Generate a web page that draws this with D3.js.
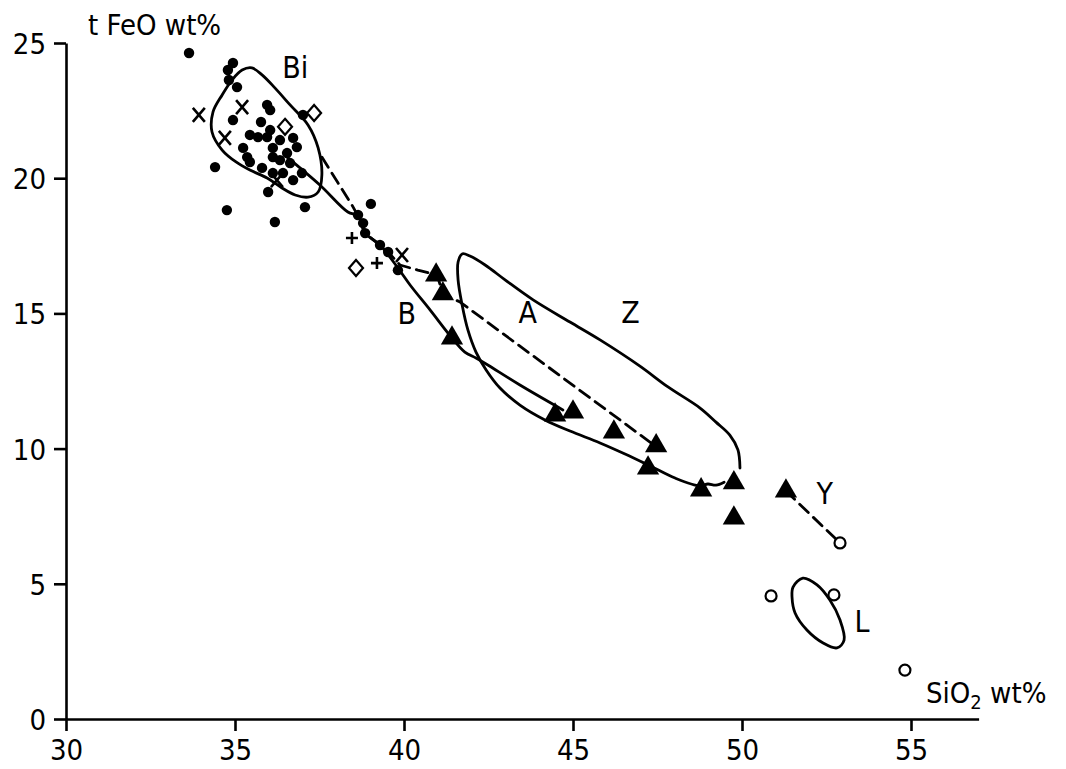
<!DOCTYPE html>
<html>
<head>
<meta charset="utf-8">
<script src="https://cdnjs.cloudflare.com/ajax/libs/d3/7.8.5/d3.min.js"></script>
<style>
  body { margin: 0; background: #fff; }
  svg { display: block; }
  .lbl { font-family: "DejaVu Sans Condensed", "DejaVu Sans", sans-serif; fill: #000; }
  .tick text { font-family: "DejaVu Sans Condensed", "DejaVu Sans", sans-serif; font-size: 29px; fill: #000; }
</style>
</head>
<body>
<svg id="chart" width="1066" height="769"></svg>
<script>
/************************************ Data *******************************/
var xTicks = [30, 35, 40, 45, 50, 55];
var yTicks = [0, 5, 10, 15, 20, 25];

// filled circles [SiO2, tFeO]
var dots = [
  [33.64, 24.63], [34.94, 24.26], [34.79, 24.0], [34.82, 23.63], [35.06, 23.37],
  [34.94, 22.15], [35.95, 22.71], [36.04, 22.52], [35.77, 22.08], [35.44, 21.6],
  [35.68, 21.52], [35.95, 21.52], [36.04, 21.78], [35.24, 21.12], [35.36, 20.78],
  [35.44, 20.6], [34.41, 20.41], [35.8, 20.38], [36.12, 21.12], [36.33, 21.41],
  [36.72, 21.49], [36.83, 21.15], [36.54, 20.93], [36.33, 20.67], [36.12, 20.78],
  [36.63, 20.56], [36.98, 20.19], [36.72, 19.93], [36.42, 20.19], [36.12, 20.19],
  [35.98, 19.49], [37.01, 22.34], [34.76, 18.82], [36.18, 18.38], [37.07, 18.93],
  [38.64, 18.64], [39.02, 19.05], [38.79, 18.34], [38.85, 17.97], [39.29, 17.53],
  [39.53, 17.27], [39.82, 16.6]
];
var triangles = [
  [40.95, 16.42], [41.15, 15.72], [41.42, 14.09], [44.47, 11.24], [45.0, 11.35],
  [46.21, 10.61], [47.46, 10.1], [47.22, 9.28], [48.79, 8.47], [49.76, 8.73],
  [49.76, 7.43], [51.3, 8.43]
];
var openCircles = [[52.9, 6.51], [50.86, 4.55], [52.72, 4.59], [54.82, 1.81]];
var diamonds = [[36.48, 21.9], [37.34, 22.41], [38.58, 16.68]];
var crosses = [[33.93, 22.34], [35.21, 22.63], [34.7, 21.49], [36.24, 19.93], [39.94, 17.16]];
var plusses = [[38.46, 17.79], [39.2, 16.86]];

// fields
var fieldBi = [
  [35.21, 24.0], [35.5, 24.08], [35.8, 23.82], [36.18, 23.34], [36.63, 22.71],
  [37.16, 21.97], [37.46, 21.12], [37.57, 20.12], [37.46, 19.49], [37.16, 19.3],
  [36.78, 19.38], [36.39, 19.64], [35.95, 20.01], [35.44, 20.3], [35.03, 20.6],
  [34.62, 21.04], [34.32, 21.71], [34.35, 22.45], [34.62, 23.08], [34.91, 23.63]
];
var fieldZ = [
  [49.94, 9.28], [49.88, 9.95], [49.64, 10.5], [49.23, 10.98], [48.76, 11.5],
  [47.81, 12.28], [46.98, 13.05], [45.8, 14.02], [44.91, 14.68], [43.82, 15.5],
  [42.99, 16.24], [42.4, 16.79], [41.95, 17.12], [41.72, 17.2], [41.6, 16.9],
  [41.6, 16.24], [41.72, 15.31], [41.89, 14.39], [42.13, 13.57], [42.43, 12.91],
  [42.84, 12.24], [43.43, 11.61], [44.17, 11.06], [44.91, 10.65], [45.8, 10.21],
  [46.54, 9.8], [47.28, 9.36], [48.02, 8.91], [48.76, 8.62], [48.99, 8.69],
  [49.23, 8.65], [49.47, 8.76]
];
var fieldL = [
  [51.51, 4.88], [51.8, 5.21], [52.22, 4.96], [52.6, 4.4], [52.9, 3.66],
  [53.02, 2.92], [52.81, 2.63], [52.4, 2.81], [51.92, 3.29], [51.57, 3.92],
  [51.48, 4.51]
];

// trends
var trendB = [
  [36.54, 20.78], [37.51, 19.75], [38.34, 18.75], [38.64, 18.6], [38.85, 17.97],
  [39.29, 17.53], [39.82, 16.68], [40.18, 16.05], [40.77, 15.13], [41.42, 14.09],
  [41.8, 13.57], [42.13, 13.35], [42.43, 13.13], [43.43, 12.35], [44.7, 11.43]
];
var trendA = [
  [37.57, 20.78], [38.05, 19.82], [38.46, 19.01], [38.64, 18.6], [38.85, 17.97],
  [39.53, 17.27], [39.88, 16.79], [40.41, 16.6], [40.98, 16.42], [41.15, 15.72],
  [41.66, 15.42], [47.43, 10.1]
];
var trendY = [[51.3, 8.43], [52.9, 6.51]];

var labels = [
  {t: "Bi", x: 36.78, y: 23.7}, {t: "B", x: 40.08, y: 14.6}, {t: "A", x: 43.66, y: 14.65},
  {t: "Z", x: 46.7, y: 14.65}, {t: "Y", x: 52.45, y: 7.95}, {t: "L", x: 53.55, y: 3.2}
];

/************************************ Chart *******************************/
var svg = d3.select("#chart");
var x = d3.scaleLinear().domain([30, 57]).range([66, 978.6]);
var y = d3.scaleLinear().domain([0, 25]).range([719, 43]);

var xAxis = svg.append("g").attr("transform", "translate(0,719)")
  .call(d3.axisBottom(x).tickValues(xTicks).tickSize(12).tickSizeOuter(0).tickPadding(8));
var yAxis = svg.append("g").attr("transform", "translate(66,0)")
  .call(d3.axisLeft(y).tickValues(yTicks).tickSize(12).tickSizeOuter(0).tickPadding(8));
svg.selectAll(".domain, .tick line").attr("stroke", "#000").attr("stroke-width", 2.6);
yAxis.selectAll(".tick text").attr("dy", "0.36em");

svg.append("text").attr("class", "lbl").attr("x", 88).attr("y", 35)
  .attr("font-size", 29).text("t FeO  wt%");
var si = svg.append("text").attr("class", "lbl").attr("x", 926).attr("y", 703).attr("font-size", 29);
si.append("tspan").text("SiO");
si.append("tspan").attr("font-size", 20).attr("dy", 6).text("2");
si.append("tspan").attr("dy", -6).text(" wt%");

var line = d3.line().x(function(d) { return x(d[0]); }).y(function(d) { return y(d[1]); });
function path(data, curve, dash) {
  svg.append("path").datum(data)
    .attr("d", line.curve(curve))
    .attr("fill", "none").attr("stroke", "#000").attr("stroke-width", 2.8)
    .attr("stroke-linejoin", "round").attr("stroke-linecap", "round")
    .attr("stroke-dasharray", dash);
}
path(fieldBi, d3.curveCatmullRomClosed, null);
path(fieldZ, d3.curveCatmullRom, null);
path(fieldL, d3.curveCatmullRomClosed, null);
path(trendB, d3.curveCatmullRom, null);
path(trendA, d3.curveLinear, "12,7");
path(trendY, d3.curveLinear, "12,7");

// markers
svg.selectAll(".dot").data(dots).enter().append("circle")
  .attr("cx", function(d) { return x(d[0]); }).attr("cy", function(d) { return y(d[1]); })
  .attr("r", 5.2).attr("fill", "#000");

svg.selectAll(".tri").data(triangles).enter().append("path")
  .attr("transform", function(d) { return "translate(" + x(d[0]) + "," + y(d[1]) + ")"; })
  .attr("d", d3.symbol().type(d3.symbolTriangle).size(215)).attr("fill", "#000");

svg.selectAll(".ocirc").data(openCircles).enter().append("circle")
  .attr("cx", function(d) { return x(d[0]); }).attr("cy", function(d) { return y(d[1]); })
  .attr("r", 5.5).attr("fill", "#fff").attr("stroke", "#000").attr("stroke-width", 2.2);

svg.selectAll(".dia").data(diamonds).enter().append("path")
  .attr("transform", function(d) { return "translate(" + x(d[0]) + "," + y(d[1]) + ")"; })
  .attr("d", "M0,-8L7,0L0,8L-7,0Z")
  .attr("fill", "#fff").attr("stroke", "#000").attr("stroke-width", 2.2);

svg.selectAll(".cross").data(crosses).enter().append("path")
  .attr("transform", function(d) { return "translate(" + x(d[0]) + "," + y(d[1]) + ")"; })
  .attr("d", "M-6,-7L6,7M6,-7L-6,7")
  .attr("stroke", "#000").attr("stroke-width", 2.6);

svg.selectAll(".plus").data(plusses).enter().append("path")
  .attr("transform", function(d) { return "translate(" + x(d[0]) + "," + y(d[1]) + ")"; })
  .attr("d", "M-6,0L6,0M0,-6L0,6")
  .attr("stroke", "#000").attr("stroke-width", 2.6);

svg.selectAll(".fl").data(labels).enter().append("text").attr("class", "lbl")
  .attr("x", function(d) { return x(d.x); }).attr("y", function(d) { return y(d.y); })
  .attr("text-anchor", "middle").attr("font-size", 30).text(function(d) { return d.t; });
</script>
</body>
</html>
